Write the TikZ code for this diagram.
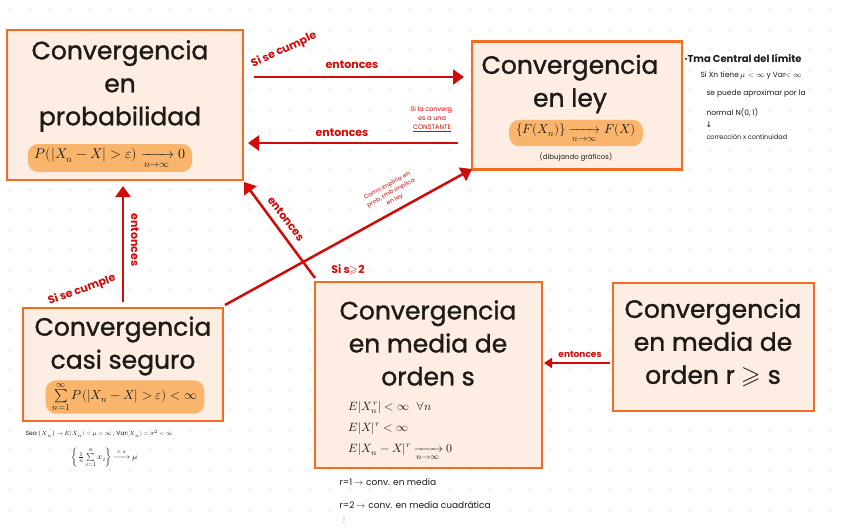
\documentclass[tikz,border=0pt]{standalone}
\usepackage{amsmath}
\usepackage{fontspec}
\usepackage{unicode-math}
\setmainfont{Poppins}
\setmathfont{Latin Modern Math}
\newfontfamily\symf{DejaVu Sans}
\newfontfamily\titlefont{Poppins}[RawFeature={embolden=1.2}]
\usetikzlibrary{arrows.meta}
\definecolor{boxfill}{HTML}{FDEDE3}
\definecolor{boxline}{HTML}{F26D1F}
\definecolor{pill}{HTML}{F8B56B}
\definecolor{redc}{HTML}{D10A0A}
\definecolor{dotc}{HTML}{DADADA}
\definecolor{ink}{HTML}{1E1A18}
\begin{document}
\begin{tikzpicture}[x=1pt,y=-1pt,
 box/.style={draw=boxline, fill=boxfill, line width=2.5pt, inner sep=0pt},
 title/.style={font=\titlefont\fontsize{25}{33}\selectfont, align=center, text=ink},
 pillbox/.style={fill=pill, rounded corners=10pt, inner xsep=7pt, inner ysep=3pt, text=ink},
 arr/.style={draw=redc, line width=2.5pt, -{Triangle[length=11pt,width=15pt]}},
 lab/.style={text=redc, font=\bfseries\fontsize{11}{13}\selectfont},
 rnote/.style={text=redc, font=\fontsize{6.5}{9}\selectfont, align=center},
 note/.style={text=ink, font=\fontsize{7}{10}\selectfont, anchor=west}]
\useasboundingbox (0,0) rectangle (848,530);
\fill[white] (0,0) rectangle (848,530);
\foreach \i in {10,30,...,840} {\foreach \j in {10,30,...,520} {\fill[dotc] (\i,\j) circle (0.8pt);}}

% boxes
\node[box, minimum width=236pt, minimum height=150pt] (A) at (125,105) {};
\node[box, minimum width=210pt, minimum height=128pt] (B) at (577,105.5) {};
\node[box, minimum width=200pt, minimum height=113pt] (C) at (123,364.5) {};
\node[box, minimum width=227pt, minimum height=186pt] (D) at (428.5,375) {};
\node[box, minimum width=201pt, minimum height=128pt] (E) at (713.5,347) {};

% titles
\node[title] (At) at (120,86) {Convergencia\\en\\probabilidad};
\node[title] (Bt) at (570,84) {Convergencia\\en ley};
\node[title] (Ct) at (123,346) {Convergencia\\casi seguro};
\node[title] (Dt) at (428,343) {Convergencia\\en media de\\orden s};
\node[title] (Et) at (713,343) {Convergencia\\en media de\\orden r $\geqslant$ s};

% pills
\node[pillbox, font=\fontsize{14}{16}\selectfont] (Ap) at (110,158) {$P(|X_n-X|>\varepsilon)\xrightarrow[n\to\infty]{\quad}0$};
\node[pillbox, font=\fontsize{13}{16}\selectfont] (Bp) at (576,133) {$\{F(X_n)\}\xrightarrow[n\to\infty]{\quad}F(X)$};
\node[font=\fontsize{7}{9}\selectfont, text=ink] (Bd) at (576,157) {(dibujando gráficos)};
\node[pillbox, font=\fontsize{13}{16}\selectfont, inner ysep=1pt] (Cp) at (125,397) {$\sum\limits_{n=1}^{\infty}P(|X_n-X|>\varepsilon)<\infty$};

% media s formulas
\node[text=ink, font=\fontsize{12}{21}\selectfont, align=left, anchor=west] (Df) at (345,431) {$E|X_n^{\,r}|<\infty\;\;\forall n$\\$E|X|^r<\infty$\\$E|X_n-X|^r\xrightarrow[n\to\infty]{\quad}0$};

% arrows
\coordinate (a1s) at (254,77); \coordinate (a1e) at (464,77);
\coordinate (a2s) at (458,143); \coordinate (a2e) at (248,143);
\coordinate (a3s) at (123,302); \coordinate (a3e) at (123,186);
\coordinate (a4s) at (315,278); \coordinate (a4e) at (244,182);
\coordinate (a5s) at (225,305); \coordinate (a5e) at (472,169);
\coordinate (a6s) at (610,363); \coordinate (a6e) at (544,363);
\draw[arr] (a1s) -- (a1e);
\draw[arr] (a2s) -- (a2e);
\draw[arr] (a3s) -- (a3e);
\draw[arr] (a4s) -- (a4e);
\draw[arr] (a5s) -- (a5e);
\draw[arr, line width=2pt, -{Triangle[length=8pt,width=10pt]}] (a6s) -- (a6e);

% labels
\node[lab] (l1) at (352,65) {entonces};
\node[lab, rotate=25] (l1b) at (284,50) {Si se cumple};
\node[lab] (l2) at (342,133) {entonces};
\node[rnote] (l2b) at (432,119) {Si la converg.\\es a una\\\underline{CONSTANTE}};
\node[lab, rotate=-90] (l3) at (135,240) {entonces};
\node[lab, rotate=20] (l3b) at (82,290) {Si se cumple};
\node[lab, rotate=-53] (l4) at (286,219) {entonces};
\node[rnote, font=\fontsize{6}{8}\selectfont, rotate=29] (l5) at (391,193) {Como implica en\\prob, tmb implica\\en ley};
\node[lab] (l5b) at (348,270) {Si s$\geqslant$2};
\node[lab, font=\bfseries\fontsize{9}{11}\selectfont] (l6) at (580,354) {entonces};

% TCL notes
\node[note, font=\bfseries\fontsize{10}{12}\selectfont] (t0) at (681,58) {·Tma Central del límite};
\node[note, font=\fontsize{7.5}{10}\selectfont] (t1) at (697,76) {Si Xn tiene $\mu<\infty$ y Var$<\infty$};
\node[note, font=\fontsize{7.5}{10}\selectfont] (t2) at (703,94) {se puede aproximar por la};
\node[note, font=\fontsize{7.5}{10}\selectfont] (t3) at (703,113) {normal N(0, 1)};
\node[note, font=\symf\fontsize{8}{10}\selectfont] (t4) at (702,125) {↓};
\node[note, font=\fontsize{6.5}{9}\selectfont] (t5) at (703,137) {corrección x continuidad};

% casi seguro notes
\node[note, font=\fontsize{6}{8}\selectfont] (c1) at (22,434) {Sea $\{X_n\}\to E(X_n)=\mu<\infty$ ; Var$(X_n)=\sigma^2<\infty$};
\node[text=ink, font=\fontsize{8}{10}\selectfont] (c2) at (105,458) {$\left\{\frac{1}{n}\sum\limits_{i=1}^{n}x_i\right\}\xrightarrow{\;c.s\;}\mu$};

% bottom notes
\node[note, font=\fontsize{9}{11}\selectfont] (b1) at (336,482) {r=1 $\to$ conv. en media};
\node[note, font=\fontsize{9}{11}\selectfont] (b2) at (336,505) {r=2 $\to$ conv. en media cuadrática};
\node[text=ink, font=\fontsize{9}{11}\selectfont] (b3) at (344,520) {$\vdots$};
\end{tikzpicture}
\end{document}
